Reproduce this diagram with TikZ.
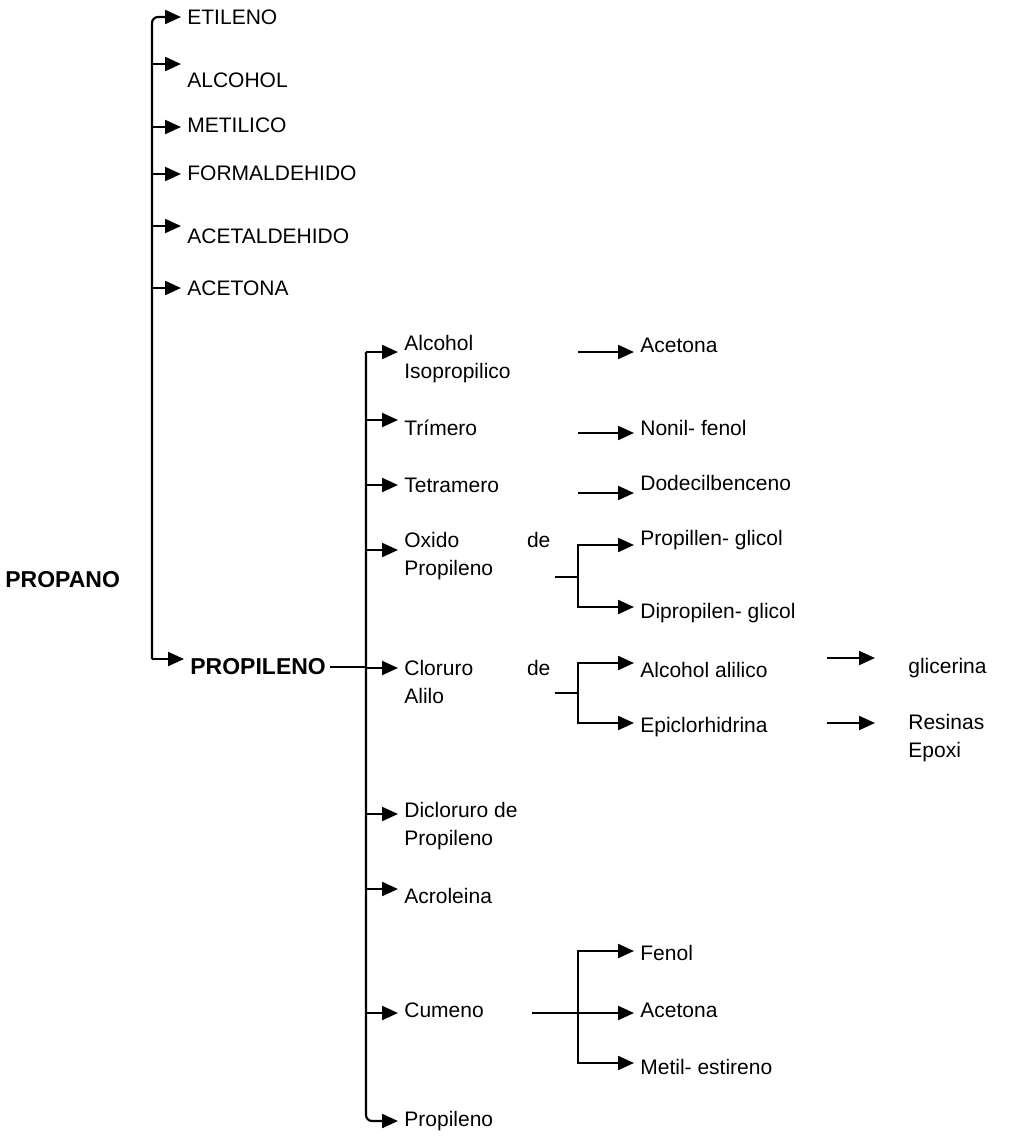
\documentclass[tikz,border=0pt]{standalone}
\usepackage{fontspec}
\setmainfont{Liberation Sans}
\usetikzlibrary{arrows.meta, calc}

\tikzset{
  item/.style={anchor=west, inner sep=2pt, align=left, font=\fontsize{10.5}{14}\selectfont},
  head/.style={anchor=west, inner sep=2pt, font=\fontsize{11.5}{14}\selectfont\bfseries},
  arr/.style={-{Triangle[length=8pt,width=7pt]}, line width=1.1pt, shorten >=1pt},
  link/.style={line width=1.1pt},
}

\begin{document}
\begin{tikzpicture}[x=0.5pt, y=-0.5pt]
        \useasboundingbox (0,0) rectangle (1010,1137);

        % Propano y derivados
        \node (propano) [head] at (1,580) {PROPANO};
        \node (etileno) [item] at (183,17) {ETILENO};
        \node (alcoholA) [item] at (183,80) {ALCOHOL};
        \node (metilico) [item] at (183,125) {METILICO};
        \node (formal) [item] at (183,173) {FORMALDEHIDO};
        \node (acetal) [item] at (183,236) {ACETALDEHIDO};
        \node (acetonaA) [item] at (183,288) {ACETONA};
        \node (propileno) [head] at (186,667) {PROPILENO};

        % Derivados del propileno
        \node (alcIso) [item] at (400,359) {Alcohol\\Isopropilico};
        \node (trimero) [item] at (400,428) {Trímero};
        \node (tetramero) [item] at (400,485) {Tetramero};
        \node (oxido) [item] at (400,556) {\makebox[73pt][s]{Oxido de}\\Propileno};
        \node (cloruro) [item] at (400,682) {\makebox[73pt][s]{Cloruro de}\\Alilo};
        \node (dicloruro) [item] at (400,826) {Dicloruro de\\Propileno};
        \node (acroleina) [item] at (400,896) {Acroleina};
        \node (cumeno) [item] at (400,1010) {Cumeno};
        \node (propilenoB) [item] at (400,1121) {Propileno};

        % Productos
        \node (acetonaB) [item] at (636,345) {Acetona};
        \node (nonil) [item] at (636,428) {Nonil- fenol};
        \node (dodecil) [item] at (636,483) {Dodecilbenceno};
        \node (pglicol) [item] at (636,540) {Propillen- glicol};
        \node (dpglicol) [item] at (636,613) {Dipropilen- glicol};
        \node (alcAlil) [item] at (636,670) {Alcohol alilico};
        \node (epi) [item] at (636,727) {Epiclorhidrina};
        \node (fenol) [item] at (636,953) {Fenol};
        \node (acetonaC) [item] at (636,1010) {Acetona};
        \node (metil) [item] at (636,1067) {Metil- estireno};
        \node (glicerina) [item] at (904,668) {glicerina};
        \node (resinas) [item] at (904,738) {Resinas\\Epoxi};

        % Entradas de las flechas
        \foreach \n/\d in {etileno/0, alcoholA/-16, metilico/2, formal/1, acetal/-10, acetonaA/0, propileno/-8,
                alcIso/-7, trimero/-8, tetramero/0, oxido/-6, cloruro/-14, dicloruro/-12, acroleina/-7, cumeno/3, propilenoB/0,
                acetonaB/7, nonil/5, dodecil/10, pglicol/5, dpglicol/-6, alcAlil/-7, epi/-4,
                fenol/-2, acetonaC/3, metil/-4, glicerina/-10, resinas/-15}
            \path (\n.west) ++(0,\d) coordinate (\n-in);

        % Columnas
        \coordinate (t1) at (152,17);
        \coordinate (u1) at (366,0);
        \coordinate (colK) at (532,0);
        \coordinate (colA) at (578,0);
        \coordinate (colB) at (827,0);
        \coordinate (bO) at (578,577);
        \coordinate (bC) at (578,693);

        % Tronco del propano
        \draw[arr, rounded corners=3pt] (t1 |- propileno-in) -- (t1) -- (etileno-in);
        \foreach \n in {alcoholA, metilico, formal, acetal, acetonaA, propileno}
            \draw[arr] (t1 |- \n-in) -- (\n-in);

        % Tronco del propileno
        \draw[link] (propileno.east) -- (propileno.east -| u1);
        \draw[arr, rounded corners=3pt] (u1 |- alcIso-in) -- (u1 |- propilenoB-in) -- (propilenoB-in);
        \foreach \n in {alcIso, trimero, tetramero, oxido, cloruro, dicloruro, acroleina, cumeno}
            \draw[arr] (u1 |- \n-in) -- (\n-in);

        % Segunda generacion
        \foreach \n in {acetonaB, nonil, dodecil}
            \draw[arr] (colA |- \n-in) -- (\n-in);
        \draw[link] (oxido.east |- bO) -- (bO);
        \draw[arr] (bO) -- (bO |- pglicol-in) -- (pglicol-in);
        \draw[arr] (bO) -- (bO |- dpglicol-in) -- (dpglicol-in);
        \draw[link] (cloruro.east |- bC) -- (bC);
        \draw[arr] (bC) -- (bC |- alcAlil-in) -- (alcAlil-in);
        \draw[arr] (bC) -- (bC |- epi-in) -- (epi-in);
        \draw[arr] (colK |- acetonaC-in) -- (acetonaC-in);
        \draw[arr] (colA |- acetonaC-in) -- (colA |- fenol-in) -- (fenol-in);
        \draw[arr] (colA |- acetonaC-in) -- (colA |- metil-in) -- (metil-in);

        % Tercera generacion
        \draw[arr, shorten >=14.5pt] (colB |- glicerina-in) -- (glicerina-in);
        \draw[arr, shorten >=14.5pt] (colB |- resinas-in) -- (resinas-in);
    \end{tikzpicture}
\end{document}
